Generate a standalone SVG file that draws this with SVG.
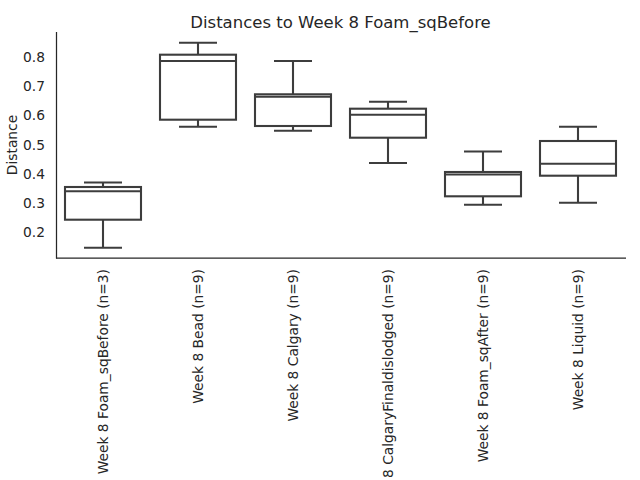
<svg xmlns="http://www.w3.org/2000/svg" width="640" height="480" viewBox="0 0 640 480">
<style>
text{font-family:"DejaVu Sans","Liberation Sans",sans-serif;fill:#262626}
.tick{font-size:13.8px;text-anchor:end}
.xl{font-size:13.8px;text-anchor:end}
.title{font-size:16.5px;text-anchor:middle}
.spine{stroke:#262626;stroke-width:1.25;fill:none}
.box rect{fill:#ffffff;stroke:#3d3d3d;stroke-width:2.1}
.box line{stroke:#3d3d3d;stroke-width:2.1}
</style>
<rect width="640" height="480" fill="#ffffff"/>
<text class="title" x="340.5" y="27.7">Distances to Week 8 Foam_sqBefore</text>
<g id="axes">
<line class="spine" x1="56.5" y1="32" x2="56.5" y2="258.5"/>
<line class="spine" x1="56" y1="258" x2="626" y2="258"/>
<text class="tick" x="45" y="62">0.8</text>
<text class="tick" x="45" y="91.2">0.7</text>
<text class="tick" x="45" y="120.3">0.6</text>
<text class="tick" x="45" y="149.5">0.5</text>
<text class="tick" x="45" y="178.7">0.4</text>
<text class="tick" x="45" y="207.8">0.3</text>
<text class="tick" x="45" y="237">0.2</text>
<text font-size="13.8px" text-anchor="middle" transform="translate(16.5,145) rotate(-90)">Distance</text>
</g>
<g id="box1" class="box">
<line x1="103" y1="182.5" x2="103" y2="187"/>
<line x1="103" y1="219.7" x2="103" y2="247.7"/>
<line x1="84" y1="182.5" x2="122" y2="182.5"/>
<line x1="84" y1="247.7" x2="122" y2="247.7"/>
<rect x="65" y="187" width="76" height="32.7"/>
<line x1="65" y1="191.2" x2="141" y2="191.2"/>
</g>
<g id="box2" class="box">
<line x1="198" y1="42.7" x2="198" y2="54.7"/>
<line x1="198" y1="119.7" x2="198" y2="126.7"/>
<line x1="179" y1="42.7" x2="217" y2="42.7"/>
<line x1="179" y1="126.7" x2="217" y2="126.7"/>
<rect x="160" y="54.7" width="76" height="65"/>
<line x1="160" y1="61" x2="236" y2="61"/>
</g>
<g id="box3" class="box">
<line x1="293" y1="61" x2="293" y2="94.3"/>
<line x1="293" y1="126" x2="293" y2="130.7"/>
<line x1="274" y1="61" x2="312" y2="61"/>
<line x1="274" y1="130.7" x2="312" y2="130.7"/>
<rect x="255" y="94.3" width="76" height="31.7"/>
<line x1="255" y1="96.7" x2="331" y2="96.7"/>
</g>
<g id="box4" class="box">
<line x1="388" y1="101.7" x2="388" y2="108.7"/>
<line x1="388" y1="137.7" x2="388" y2="163"/>
<line x1="369" y1="101.7" x2="407" y2="101.7"/>
<line x1="369" y1="163" x2="407" y2="163"/>
<rect x="350" y="108.7" width="76" height="29"/>
<line x1="350" y1="114.7" x2="426" y2="114.7"/>
</g>
<g id="box5" class="box">
<line x1="483" y1="151.5" x2="483" y2="172"/>
<line x1="483" y1="196.3" x2="483" y2="204.7"/>
<line x1="464" y1="151.5" x2="502" y2="151.5"/>
<line x1="464" y1="204.7" x2="502" y2="204.7"/>
<rect x="445" y="172" width="76" height="24.3"/>
<line x1="445" y1="174.5" x2="521" y2="174.5"/>
</g>
<g id="box6" class="box">
<line x1="578" y1="126.7" x2="578" y2="141"/>
<line x1="578" y1="175.7" x2="578" y2="202.7"/>
<line x1="559" y1="126.7" x2="597" y2="126.7"/>
<line x1="559" y1="202.7" x2="597" y2="202.7"/>
<rect x="540" y="141" width="76" height="34.7"/>
<line x1="540" y1="163.7" x2="616" y2="163.7"/>
</g>
<g id="xlabels">
<text class="xl" transform="translate(107.5,269) rotate(-90)">Week 8 Foam_sqBefore (n=3)</text>
<text class="xl" transform="translate(202.5,269) rotate(-90)">Week 8 Bead (n=9)</text>
<text class="xl" transform="translate(297.5,269) rotate(-90)">Week 8 Calgary (n=9)</text>
<text class="xl" transform="translate(392.5,269) rotate(-90)">Week 8 CalgaryFinaldislodged (n=9)</text>
<text class="xl" transform="translate(487.5,269) rotate(-90)">Week 8 Foam_sqAfter (n=9)</text>
<text class="xl" transform="translate(582.5,269) rotate(-90)">Week 8 Liquid (n=9)</text>
</g>
</svg>
